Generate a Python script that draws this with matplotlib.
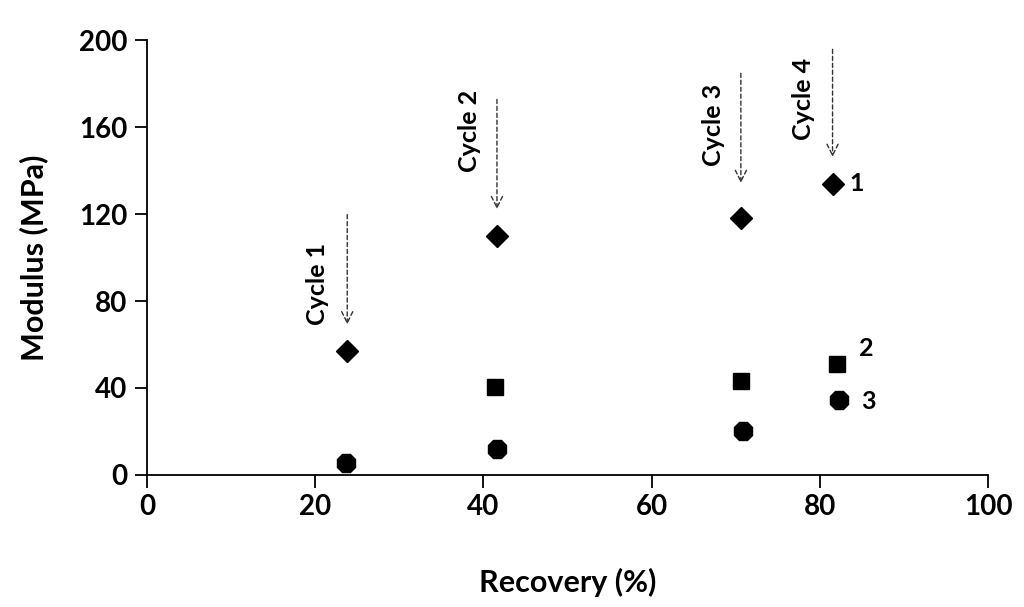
import numpy as np
from matplotlib import pyplot as plt

plt.rcParams['font.family'] = ['Lato', 'DejaVu Sans']
plt.rcParams['font.weight'] = 'bold'

# series 1 (diamonds), 2 (squares), 3 (circles)
rec1 = [23.8, 41.6, 70.6, 81.5]
mod1 = [57, 110, 118, 134]
rec2 = [41.4, 70.6, 82.0]
mod2 = [40.5, 43, 51]
rec3 = [23.7, 41.6, 70.8, 82.3]
mod3 = [5.5, 12, 20, 34.5]

cycles = ['Cycle 1', 'Cycle 2', 'Cycle 3', 'Cycle 4']
arrow_x = [23.8, 41.6, 70.6, 81.5]
arrow_top = [121, 174, 186, 197]
arrow_tip = [68, 121, 133, 145]
text_x = [20.3, 38.3, 67.4, 78.1]
text_y = [88, 158, 161, 173]

fig = plt.figure(figsize=(10.24, 6.07), dpi=100)
ax = fig.add_axes([0.1436, 0.2175, 0.8214, 0.7165])

ax.plot(rec1, mod1, 'D', color='black', markersize=11.5, clip_on=False)
ax.plot(rec2, mod2, 's', color='black', markersize=12, clip_on=False)
ax.plot(rec3, mod3, '8', color='black', markersize=14, clip_on=False)

for i in range(len(cycles)):
    ax.annotate('', xy=(arrow_x[i], arrow_tip[i]), xytext=(arrow_x[i], arrow_top[i]),
                arrowprops=dict(arrowstyle='->', linestyle=(0, (3, 2)), lw=1.0,
                                color='#333333', mutation_scale=20))
    ax.text(text_x[i], text_y[i], cycles[i], rotation=90, ha='center', va='center',
            fontsize=18, fontweight='bold')

ax.text(84.4, 134, '1', ha='center', va='center', fontsize=18, fontweight='bold')
ax.text(85.5, 58, '2', ha='center', va='center', fontsize=18, fontweight='bold')
ax.text(85.8, 34, '3', ha='center', va='center', fontsize=18, fontweight='bold')

ax.set_xlim(0, 100)
ax.set_ylim(0, 200)
ax.set_xticks(np.arange(0, 101, 20))
ax.set_yticks(np.arange(0, 201, 40))
ax.spines['top'].set_visible(False)
ax.spines['right'].set_visible(False)
ax.spines['left'].set_linewidth(1.3)
ax.spines['bottom'].set_linewidth(1.3)
ax.tick_params(direction='out', length=9, width=1.3, labelsize=20, pad=5)
for lab in ax.get_xticklabels() + ax.get_yticklabels():
    lab.set_fontweight('bold')
ax.set_xlabel('Recovery (%)', fontsize=22, fontweight='bold', labelpad=34)
ax.set_ylabel('Modulus (MPa)', fontsize=22, fontweight='bold', labelpad=22)

fig.savefig('out.png', dpi=100)
